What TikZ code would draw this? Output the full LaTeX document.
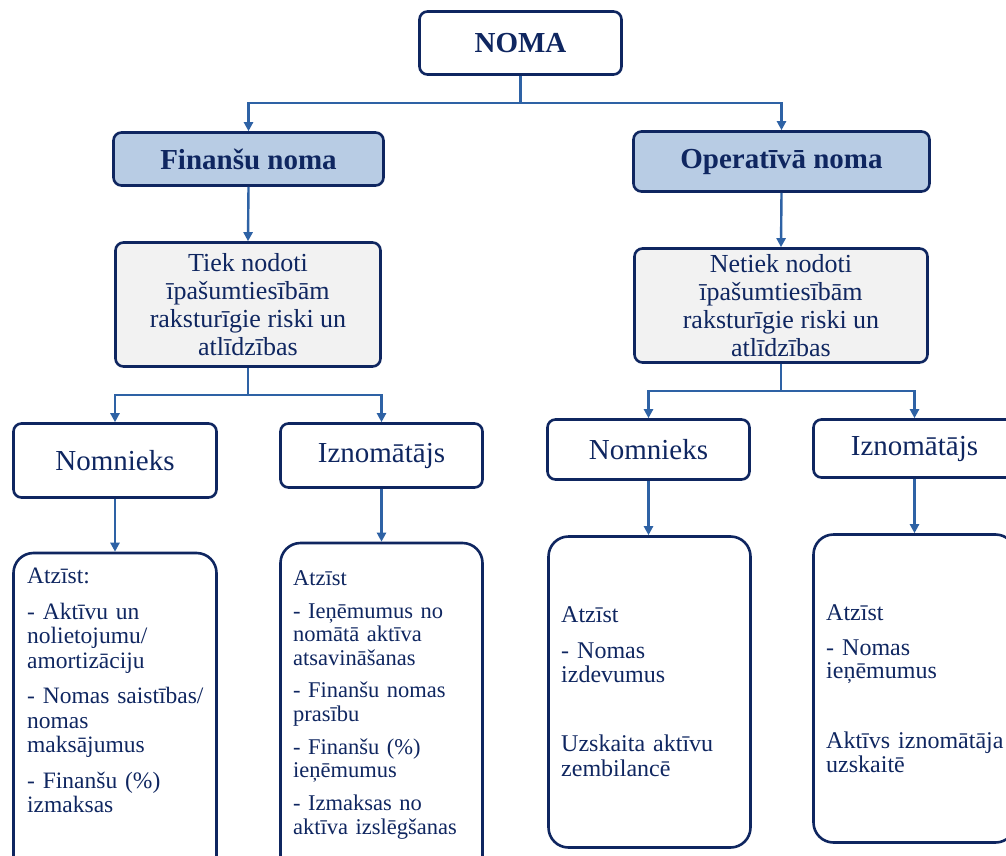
\documentclass[tikz,border=0pt]{standalone}
\usepackage{fontspec}
\setmainfont{Liberation Serif}
\usetikzlibrary{arrows.meta}
\definecolor{navy}{HTML}{0F2660}
\definecolor{linkB}{HTML}{2E62A5}
\definecolor{headB}{HTML}{B8CCE4}
\definecolor{paleG}{HTML}{F2F2F2}

\begin{document}
\begin{tikzpicture}
  [x=1pt,y=-1pt,
   boxN/.style={draw=navy,line width=2.6pt,rounded corners=8pt,text=navy,inner sep=0pt},
   headN/.style={boxN,fill=headB,font=\fontsize{29}{32}\selectfont\bfseries},
   riskN/.style={boxN,fill=paleG,align=center,font=\fontsize{26}{28}\selectfont},
   roleN/.style={boxN,font=\fontsize{29}{32}\selectfont},
   listN/.style={draw=navy,line width=2.6pt,rounded corners=20pt},
   txtN/.style={anchor=base west,inner sep=0pt,text=navy,align=left,text width=190pt,
                font=\fontsize{23.5}{24.5}\selectfont},
   link/.style={draw=linkB,line width=2.4pt},
   arr/.style={link,-{Triangle[length=9pt,width=9pt]}}]

  \useasboundingbox (0,0) rectangle (1006,856);

  \node[boxN,minimum width=202pt,minimum height=63pt,font=\fontsize{29}{32}\selectfont\bfseries] (noma) at (520.5,43) {NOMA};

  \node[headN,minimum width=270pt,minimum height=53pt] (fin)  at (248.5,159)   {Finanšu noma};
  \node[headN,minimum width=296pt,minimum height=60pt] (oper) at (781.5,161.5) {Operatīvā noma};

  \node[riskN,minimum width=265pt,minimum height=124pt] (tiek)   at (248,304.5) {Tiek nodoti\\īpašumtiesībām\\raksturīgie riski un\\atlīdzības};
  \node[riskN,minimum width=293pt,minimum height=114pt] (netiek) at (781,305.5) {Netiek nodoti\\īpašumtiesībām\\raksturīgie riski un\\atlīdzības};

  \node[roleN,minimum width=203pt,minimum height=74pt] (nomL) at (115,460.5)   {Nomnieks};
  \node[roleN,minimum width=202pt,minimum height=64pt] (iznL) at (381.5,455.5) {Iznomātājs};
  \node[roleN,minimum width=202pt,minimum height=60pt] (nomR) at (648.5,449.5) {Nomnieks};
  \node[roleN,minimum width=202pt,minimum height=58pt] (iznR) at (914.5,448.5) {Iznomātājs};

  % list boxes (run off the bottom)
  \node[listN,minimum width=203pt,minimum height=327pt] (atzL)  at (115,716.5)   {};
  \node[listN,minimum width=202pt,minimum height=337pt] (atzIL) at (381.5,711.5) {};
  \node[listN,minimum width=202pt,minimum height=311pt] (atzR)  at (649.5,692)   {};
  \node[listN,minimum width=202pt,minimum height=308pt] (atzIR) at (914.5,688.5) {};

  \node[txtN] (txtL) at (27,583) {Atzīst:\\[11.5pt]
    - Aktīvu un\\nolietojumu/\\amortizāciju\\[11pt]
    - Nomas saistības/\\nomas\\maksājumus\\[11pt]
    - Finanšu (\%)\\izmaksas};
  \node[txtN,font=\fontsize{22.5}{23.5}\selectfont] (txtIL) at (293,585) {Atzīst\\[9.5pt]
    - Ieņēmumus no\\nomātā aktīva\\atsavināšanas\\[9pt]
    - Finanšu nomas\\prasību\\[9.5pt]
    - Finanšu (\%)\\ieņēmumus\\[9.5pt]
    - Izmaksas no\\aktīva izslēgšanas};
  \node[txtN,font=\fontsize{24}{24.5}\selectfont] (txtR) at (561,622) {Atzīst\\[11.5pt]
    - Nomas\\izdevumus\\[44.5pt]
    Uzskaita aktīvu\\zembilancē};
  \node[txtN,font=\fontsize{24}{23.5}\selectfont] (txtIR) at (826,620) {Atzīst\\[11.5pt]
    - Nomas\\ieņēmumus\\[46.5pt]
    Aktīvs iznomātāja\\uzskaitē};

  \coordinate (s0) at (520.5,103);
  \coordinate (s1) at (248,395);
  \coordinate (s2) at (781,391);

  \draw [link] (noma.south) -- (s0);
  \draw [arr] (s0) -| (fin.north);
  \draw [arr] (s0) -| (oper.north);

  \draw [arr] (fin.south) -- (tiek.north);
  \draw [arr] (oper.south) -- (netiek.north);

  \draw [link] (tiek.south) -- (s1);
  \draw [arr] (s1) -| (nomL.north);
  \draw [arr] (s1) -| (iznL.north);
  \draw [link] (netiek.south) -- (s2);
  \draw [arr] (s2) -| (nomR.north);
  \draw [arr] (s2) -| (iznR.north);

  \draw [arr] (nomL.south) -- (atzL.north);
  \draw [arr] (iznL.south) -- (atzIL.north);
  \draw [arr] (nomR.south) -- (nomR.south |- atzR.north);
  \draw [arr] (iznR.south) -- (atzIR.north);
\end{tikzpicture}
\end{document}
